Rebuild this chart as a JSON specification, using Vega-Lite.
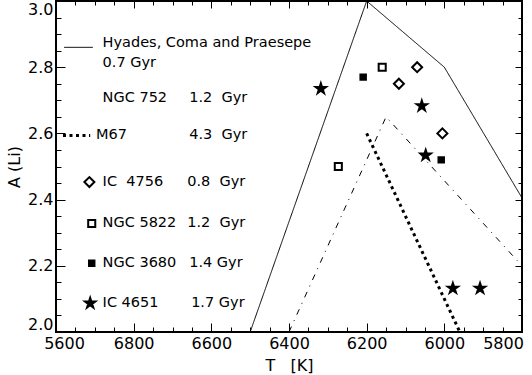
{
  "$schema": "https://vega.github.io/schema/vega-lite/v6.json",
  "width": 466,
  "height": 331,
  "autosize": {"type": "none"},
  "padding": {"left": 56, "top": 1, "right": 10, "bottom": 43},
  "background": "white",
  "config": {
    "font": "DejaVu Sans",
    "view": {"stroke": "black", "strokeWidth": 2},
    "axis": {"grid": false, "domain": false, "tickColor": "black", "tickWidth": 1, "labelColor": "black", "titleColor": "black", "labelFont": "DejaVu Sans", "titleFont": "DejaVu Sans", "titleFontWeight": "normal"}
  },
  "datasets": {
    "lines": [
      {"series": "Hyades", "seg": "curve", "T": 6500, "A": 2.0},
      {"series": "Hyades", "seg": "curve", "T": 6200, "A": 3.0},
      {"series": "Hyades", "seg": "curve", "T": 6000, "A": 2.8},
      {"series": "Hyades", "seg": "curve", "T": 5800, "A": 2.405},
      {"series": "NGC 752", "seg": "curve", "T": 6400, "A": 2.0},
      {"series": "NGC 752", "seg": "curve", "T": 6150, "A": 2.65},
      {"series": "NGC 752", "seg": "curve", "T": 5800, "A": 2.2},
      {"series": "M67", "seg": "curve", "T": 6200, "A": 2.6},
      {"series": "M67", "seg": "curve", "T": 5960, "A": 2.0},
      {"series": "Hyades", "seg": "key", "T": 6979, "A": 2.86},
      {"series": "Hyades", "seg": "key", "T": 6905, "A": 2.86},
      {"series": "M67", "seg": "key", "T": 6982, "A": 2.594},
      {"series": "M67", "seg": "key", "T": 6912, "A": 2.594}
    ],
    "points": [
      {"series": "IC 4756", "T": 6070, "A": 2.8},
      {"series": "IC 4756", "T": 6117, "A": 2.75},
      {"series": "IC 4756", "T": 6005, "A": 2.6},
      {"series": "NGC 5822", "T": 6160, "A": 2.8},
      {"series": "NGC 5822", "T": 6273, "A": 2.5},
      {"series": "NGC 3680", "T": 6209, "A": 2.77},
      {"series": "NGC 3680", "T": 6008, "A": 2.52},
      {"series": "IC 4651", "T": 6318, "A": 2.735},
      {"series": "IC 4651", "T": 6058, "A": 2.683},
      {"series": "IC 4651", "T": 6048, "A": 2.534},
      {"series": "IC 4651", "T": 5978, "A": 2.132},
      {"series": "IC 4651", "T": 5908, "A": 2.132}
    ],
    "keysyms": [
      {"series": "IC 4756", "T": 6914, "A": 2.453},
      {"series": "NGC 5822", "T": 6908, "A": 2.328},
      {"series": "NGC 3680", "T": 6908, "A": 2.208},
      {"series": "IC 4651", "T": 6912, "A": 2.087}
    ],
    "keytext": [
      {"label": "Hyades, Coma and Praesepe", "T": 6880, "A": 2.873},
      {"label": "0.7 Gyr", "T": 6880, "A": 2.814},
      {"label": "NGC 752", "T": 6880, "A": 2.707},
      {"label": "1.2\u00a0\u00a0Gyr", "T": 6657, "A": 2.707},
      {"label": "M67", "T": 6897, "A": 2.594},
      {"label": "4.3\u00a0\u00a0Gyr", "T": 6657, "A": 2.594},
      {"label": "IC\u00a0\u00a04756", "T": 6880, "A": 2.453},
      {"label": "0.8\u00a0\u00a0Gyr", "T": 6662, "A": 2.453},
      {"label": "NGC 5822", "T": 6880, "A": 2.328},
      {"label": "1.2\u00a0\u00a0Gyr", "T": 6662, "A": 2.328},
      {"label": "NGC 3680", "T": 6880, "A": 2.208},
      {"label": "1.4 Gyr", "T": 6657, "A": 2.208},
      {"label": "IC 4651", "T": 6880, "A": 2.087},
      {"label": "1.7 Gyr", "T": 6652, "A": 2.087}
    ]
  },
  "layer": [
    {
      "data": {"name": "lines"},
      "mark": {"type": "line", "color": "black", "strokeCap": "butt"},
      "encoding": {
        "x": {
          "field": "T", "type": "quantitative",
          "scale": {"domain": [5800, 7000], "reverse": true, "nice": false, "zero": false},
          "axis": {
            "orient": "bottom",
            "values": [5800,5850,5900,5950,6000,6050,6100,6150,6200,6250,6300,6350,6400,6450,6500,6550,6600,6650,6700,6750,6800,6850,6900,6950,7000],
            "labelExpr": "datum.value % 200 === 0 ? (datum.value === 7000 ? '5600' : format(datum.value, 'd')) : ''",
            "tickSize": {"condition": {"test": "datum.value % 200 === 0", "value": -9}, "value": -5},
            "labelOffset": {"condition": [{"test": "datum.value === 7000", "value": 8}, {"test": "datum.value === 5800", "value": -19}], "value": 0},
            "labelFontSize": 16,
            "labelPadding": 12,
            "labelFlush": false,
            "labelBound": false,
            "labelOverlap": false,
            "title": "T\u00a0\u00a0\u00a0[K]",
            "titleFontSize": 16,
            "titlePadding": 2
          }
        },
        "y": {
          "field": "A", "type": "quantitative",
          "scale": {"domain": [2.0, 3.0], "nice": false, "zero": false},
          "axis": {
            "orient": "left",
            "values": [2.0,2.05,2.1,2.15,2.2,2.25,2.3,2.35,2.4,2.45,2.5,2.55,2.6,2.65,2.7,2.75,2.8,2.85,2.9,2.95,3.0],
            "labelExpr": "round(datum.value * 100) % 20 === 0 ? format(datum.value, '.1f') : ''",
            "tickSize": {"condition": {"test": "round(datum.value * 100) % 20 === 0", "value": -9}, "value": -5},
            "labelFontSize": 16,
            "labelPadding": 12,
            "labelFlush": true,
            "labelOverlap": false,
            "title": "A (Li)",
            "titleFontSize": 16,
            "titlePadding": 5
          }
        },
        "detail": [{"field": "series"}, {"field": "seg"}],
        "strokeDash": {
          "field": "series", "type": "nominal",
          "scale": {"type": "ordinal", "domain": ["Hyades", "NGC 752", "M67"], "range": [[1, 0], [6, 6, 1, 6], [3, 3.5]]},
          "legend": null
        },
        "strokeWidth": {
          "field": "series", "type": "nominal",
          "scale": {"type": "ordinal", "domain": ["Hyades", "NGC 752", "M67"], "range": [1, 1, 3]},
          "legend": null
        }
      }
    },
    {
      "data": {"name": "points"},
      "mark": {"type": "point", "stroke": "black", "strokeWidth": 2, "opacity": 1},
      "encoding": {
        "x": {
          "field": "T", "type": "quantitative",
          "scale": {"domain": [5800, 7000], "reverse": true, "nice": false, "zero": false},
          "axis": {
            "orient": "top",
            "values": [5800,5850,5900,5950,6000,6050,6100,6150,6200,6250,6300,6350,6400,6450,6500,6550,6600,6650,6700,6750,6800,6850,6900,6950,7000],
            "labels": false,
            "tickSize": {"condition": {"test": "datum.value % 200 === 0", "value": -7}, "value": -4},
            "title": null
          }
        },
        "y": {
          "field": "A", "type": "quantitative",
          "scale": {"domain": [2.0, 3.0], "nice": false, "zero": false},
          "axis": {
            "orient": "right",
            "values": [2.0,2.05,2.1,2.15,2.2,2.25,2.3,2.35,2.4,2.45,2.5,2.55,2.6,2.65,2.7,2.75,2.8,2.85,2.9,2.95,3.0],
            "labels": false,
            "tickSize": {"condition": {"test": "round(datum.value * 100) % 20 === 0", "value": -7}, "value": -4},
            "title": null
          }
        },
        "shape": {
          "field": "series", "type": "nominal",
          "scale": {"type": "ordinal", "domain": ["IC 4756", "NGC 5822", "NGC 3680", "IC 4651"], "range": ["diamond", "square", "square", "M0,-1L0.2245,-0.309L0.951,-0.309L0.3633,0.118L0.588,0.809L0,0.382L-0.588,0.809L-0.3633,0.118L-0.951,-0.309L-0.2245,-0.309Z"]},
          "legend": null
        },
        "fill": {
          "field": "series", "type": "nominal",
          "scale": {"type": "ordinal", "domain": ["IC 4756", "NGC 5822", "NGC 3680", "IC 4651"], "range": ["white", "white", "black", "black"]},
          "legend": null
        },
        "size": {
          "field": "series", "type": "nominal",
          "scale": {"type": "ordinal", "domain": ["IC 4756", "NGC 5822", "NGC 3680", "IC 4651"], "range": [100, 50, 30, 115]},
          "legend": null
        }
      }
    },
    {
      "data": {"name": "keysyms"},
      "mark": {"type": "point", "stroke": "black", "strokeWidth": 2, "opacity": 1},
      "encoding": {
        "x": {"field": "T", "type": "quantitative", "scale": {"domain": [5800, 7000], "reverse": true, "nice": false, "zero": false}, "axis": null},
        "y": {"field": "A", "type": "quantitative", "scale": {"domain": [2.0, 3.0], "nice": false, "zero": false}, "axis": null},
        "shape": {
          "field": "series", "type": "nominal",
          "scale": {"type": "ordinal", "domain": ["IC 4756", "NGC 5822", "NGC 3680", "IC 4651"], "range": ["diamond", "square", "square", "M0,-1L0.2245,-0.309L0.951,-0.309L0.3633,0.118L0.588,0.809L0,0.382L-0.588,0.809L-0.3633,0.118L-0.951,-0.309L-0.2245,-0.309Z"]},
          "legend": null
        },
        "fill": {
          "field": "series", "type": "nominal",
          "scale": {"type": "ordinal", "domain": ["IC 4756", "NGC 5822", "NGC 3680", "IC 4651"], "range": ["white", "white", "black", "black"]},
          "legend": null
        },
        "size": {
          "field": "series", "type": "nominal",
          "scale": {"type": "ordinal", "domain": ["IC 4756", "NGC 5822", "NGC 3680", "IC 4651"], "range": [100, 50, 30, 115]},
          "legend": null
        }
      }
    },
    {
      "data": {"name": "keytext"},
      "mark": {"type": "text", "align": "left", "baseline": "middle", "fontSize": 14.5, "font": "DejaVu Sans", "color": "black"},
      "encoding": {
        "x": {"field": "T", "type": "quantitative", "scale": {"domain": [5800, 7000], "reverse": true, "nice": false, "zero": false}, "axis": null},
        "y": {"field": "A", "type": "quantitative", "scale": {"domain": [2.0, 3.0], "nice": false, "zero": false}, "axis": null},
        "text": {"field": "label", "type": "nominal"}
      }
    }
  ],
  "resolve": {"axis": {"x": "independent", "y": "independent"}}
}
